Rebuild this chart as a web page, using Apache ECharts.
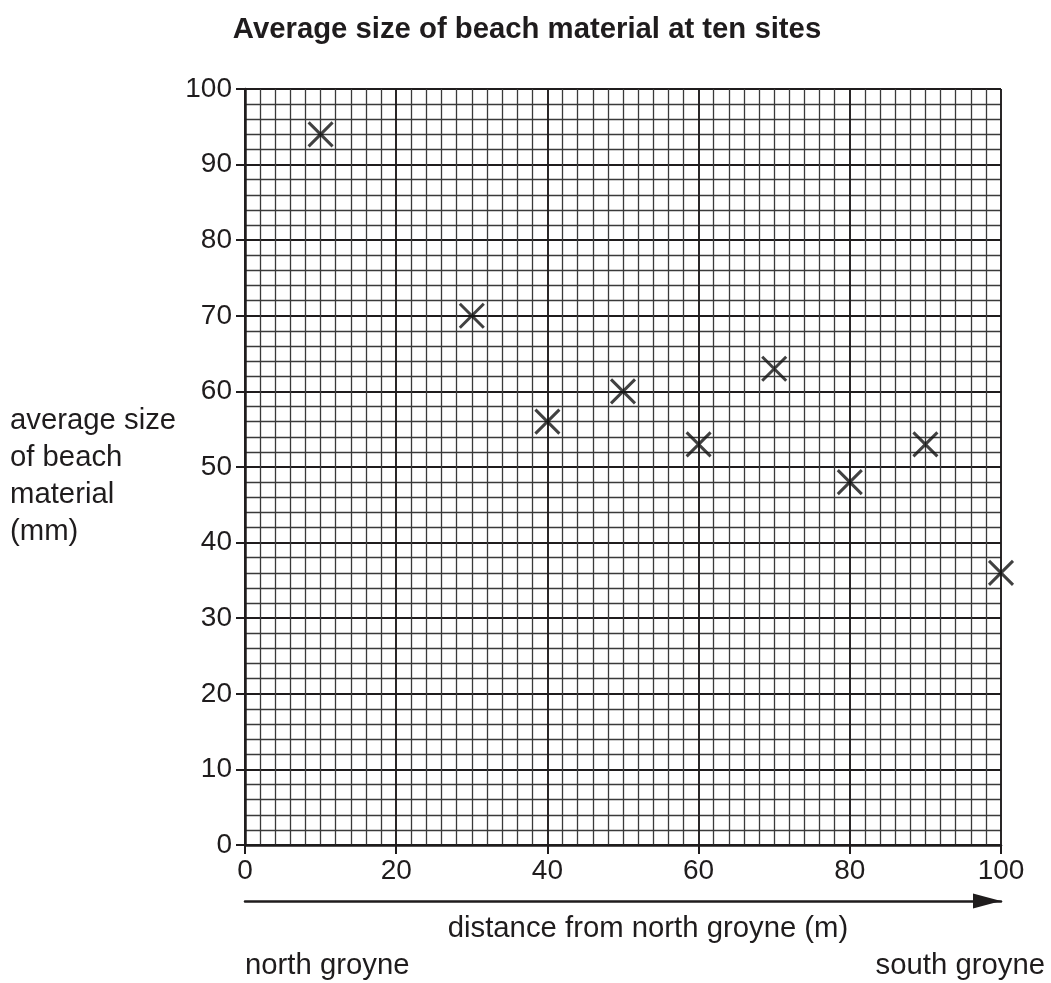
<!DOCTYPE html>
<html>
<head>
<meta charset="utf-8">
<script src="https://cdn.jsdelivr.net/npm/echarts@6/dist/echarts.min.js"></script>
<style>html,body{margin:0;padding:0;background:#fff;}#c{width:1051px;height:983px;}</style>
</head>
<body>
<div id="c"></div>
<script>
const titleText = 'Average size of beach material at ten sites';
const xAxisTitle = 'distance from north groyne (m)';
const yAxisTitle = 'average size\nof beach\nmaterial\n(mm)';
const leftEndLabel = 'north groyne';
const rightEndLabel = 'south groyne';
const distances = [10, 30, 40, 50, 60, 70, 80, 90, 100];
const sizes = [94, 70, 56, 60, 53, 63, 48, 53, 36];

const FONT = '"Liberation Sans", Arial, Helvetica, sans-serif';
const INK = '#1f1c1d';
const TXT = 29.3;

const chart = echarts.init(document.getElementById('c'), null, {renderer: 'canvas'});
chart.setOption({
  backgroundColor: '#fff',
  animation: false,
  grid: {left: 245, right: 50, top: 89, bottom: 138, containLabel: false},
  xAxis: [{
    type: 'value', min: 0, max: 100, interval: 20,
    axisLine: {show: true, onZero: false, lineStyle: {color: INK, width: 2.5}},
    axisTick: {show: true, length: 9, lineStyle: {color: INK, width: 2}},
    axisLabel: {color: INK, fontSize: 28, fontFamily: FONT, margin: 12},
    splitLine: {show: true, lineStyle: {color: INK, width: 1.9}},
    minorTick: {show: false, splitNumber: 10},
    minorSplitLine: {show: true, lineStyle: {color: '#3a3a3a', width: 1.3}}
  }, {
    type: 'value', min: 0, max: 100, position: 'bottom', offset: 56,
    axisLine: {show: true, onZero: false, symbol: ['none', 'triangle'], symbolSize: [15, 28], symbolOffset: [0, -14],
      lineStyle: {color: INK, width: 2.5}},
    axisTick: {show: false}, axisLabel: {show: false}, splitLine: {show: false}
  }],
  yAxis: {
    type: 'value', min: 0, max: 100, interval: 10,
    axisLine: {show: true, onZero: false, lineStyle: {color: INK, width: 2.5}},
    axisTick: {show: true, length: 9, lineStyle: {color: INK, width: 2}},
    axisLabel: {color: INK, fontSize: 28, fontFamily: FONT, margin: 13},
    splitLine: {show: true, lineStyle: {color: INK, width: 1.9}},
    minorTick: {show: false, splitNumber: 5},
    minorSplitLine: {show: true, lineStyle: {color: '#3a3a3a', width: 1.3}}
  },
  series: [{
    type: 'scatter', xAxisIndex: 0,
    data: distances.map((d, i) => [d, sizes[i]]),
    symbol: 'path://M0,0L10,10M10,0L0,10',
    symbolSize: 24,
    itemStyle: {color: 'rgba(0,0,0,0)', borderColor: '#111', borderWidth: 3},
    z: 5
  }],
  graphic: [
    {type: 'text', x: 527, y: 30, style: {text: titleText, fontSize: 29.3, fontWeight: 'bold', fontFamily: FONT, fill: INK, textAlign: 'center', textVerticalAlign: 'middle'}},
    {type: 'text', x: 10, y: 402, style: {text: yAxisTitle, fontSize: TXT, fontFamily: FONT, fill: INK, lineHeight: 37, textAlign: 'left', textVerticalAlign: 'top'}},
    {type: 'text', x: 648, y: 929, style: {text: xAxisTitle, fontSize: TXT, fontFamily: FONT, fill: INK, textAlign: 'center', textVerticalAlign: 'middle'}},
    {type: 'text', x: 245, y: 966, style: {text: leftEndLabel, fontSize: TXT, fontFamily: FONT, fill: INK, textAlign: 'left', textVerticalAlign: 'middle'}},
    {type: 'text', x: 1045, y: 966, style: {text: rightEndLabel, fontSize: TXT, fontFamily: FONT, fill: INK, textAlign: 'right', textVerticalAlign: 'middle'}}
  ]
});
</script>
</body>
</html>
